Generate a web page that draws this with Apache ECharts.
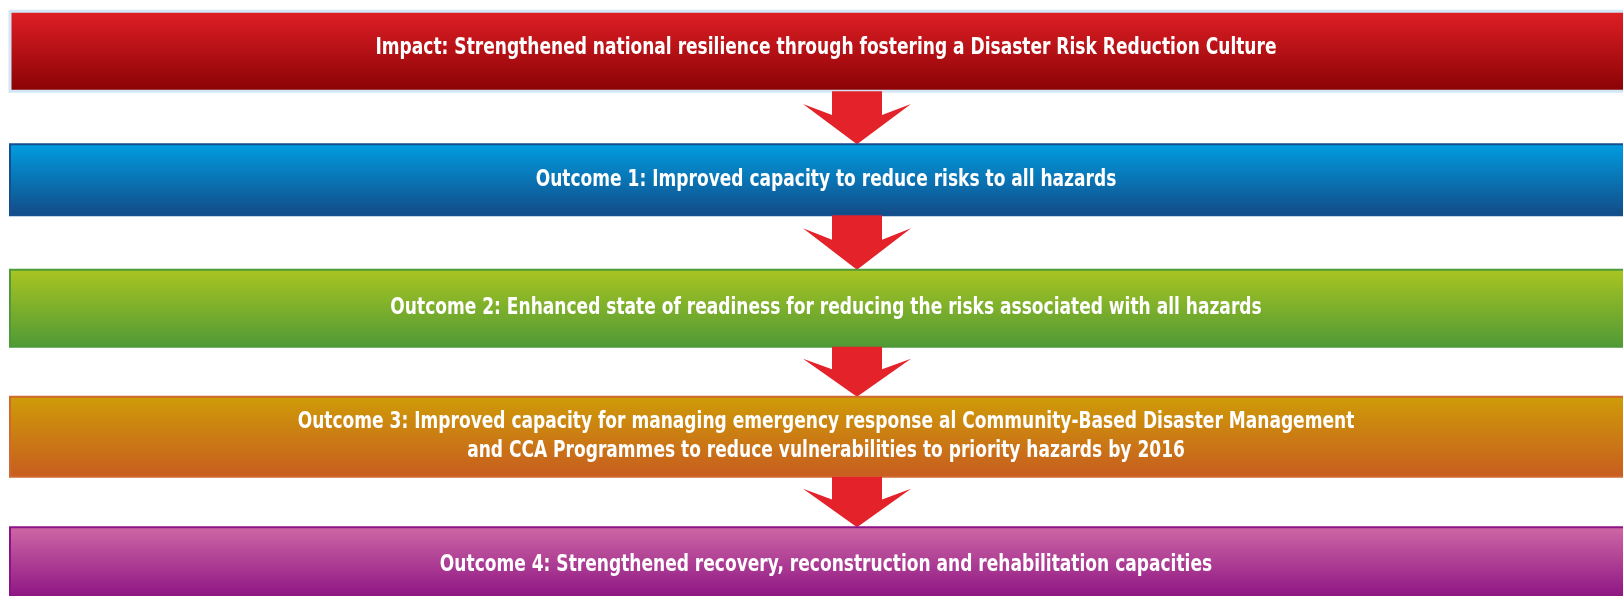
<!DOCTYPE html>
<html>
<head>
<meta charset="utf-8">
<script src="https://cdn.jsdelivr.net/npm/echarts@6/dist/echarts.min.js"></script>
<style>
  html, body { margin: 0; padding: 0; background: #ffffff; overflow: hidden; }
  #chart { width: 1623px; height: 596px; }
</style>
</head>
<body>
<div id="chart"></div>
<script>
// ---- Data: the levels of the results chain, top to bottom ----
var levels = [
  'Impact: Strengthened national resilience through fostering a Disaster Risk Reduction Culture',
  'Outcome 1: Improved capacity to reduce risks to all hazards',
  'Outcome 2: Enhanced state of readiness for reducing the risks associated with all hazards',
  'Outcome 3: Improved capacity for managing emergency response al Community-Based Disaster Management\nand CCA Programmes to reduce vulnerabilities to priority hazards by 2016',
  'Outcome 4: Strengthened recovery, reconstruction and rehabilitation capacities'
];

// ---- Styles (kept separate from the data) ----
var boxTop    = ['#e11f26', '#009ee2', '#aac521', '#cf9c07', '#cf68a5'];
var boxBottom = ['#880204', '#134a86', '#4f9936', '#c75c20', '#870d80'];
var boxBorder = ['#d3e6f6', '#154f8e', '#4e9a3a', '#d0692f', '#8a1487'];
var boxHeight = [80, 71, 77, 80, 76];
var textShift = [-3, 0, 0, 0, 0];
var arrowColor = '#e3222a';
var arrowCenterX = 51.9; // in x-axis units (0..100)
var font = "bold 23px 'Liberation Sans Narrow', 'DejaVu Sans Condensed', 'Liberation Sans', sans-serif";
var firstLabelWidth = 901; // target rendered width of the first label (px)

// horizontal compression so the text matches the condensed face of the reference
var measureCtx = document.createElement('canvas').getContext('2d');
measureCtx.font = font;
var textScale = firstLabelWidth / measureCtx.measureText(levels[0]).width;

var chart = echarts.init(document.getElementById('chart'), null, { renderer: 'canvas' });

function renderItem(params, api) {
  var i = params.dataIndex;
  var idx = api.value(1);
  var left = api.coord([0, idx]);
  var right = api.coord([100, idx]);
  var h = boxHeight[i];
  var top = left[1] - h / 2;
  var children = [];

  children.push({
    type: 'rect',
    shape: { x: left[0], y: top, width: right[0] - left[0], height: h },
    style: {
      fill: new echarts.graphic.LinearGradient(0, 0, 0, 1, [
        { offset: 0, color: boxTop[i] },
        { offset: 1, color: boxBottom[i] }
      ]),
      stroke: boxBorder[i],
      lineWidth: i === 0 ? 3 : 2
    }
  });

  children.push({
    type: 'text',
    x: (left[0] + right[0]) / 2,
    y: left[1] + textShift[i],
    scaleX: textScale,
    style: {
      text: api.value(2),
      x: 0,
      y: 0,
      align: 'center',
      verticalAlign: 'middle',
      fill: '#ffffff',
      font: font,
      lineHeight: 29
    }
  });

  if (i < levels.length - 1) {
    var next = api.coord([arrowCenterX, idx + 1]);
    var cx = next[0];
    var y0 = top + h;
    var y1 = next[1] - boxHeight[i + 1] / 2;
    var ah = y1 - y0;
    var sw = 25, ww = 54;
    var wingY = y0 + ah * 0.24;
    var notchY = y0 + ah * 0.45;
    children.push({
      type: 'polygon',
      shape: {
        points: [
          [cx - sw, y0], [cx + sw, y0], [cx + sw, notchY], [cx + ww, wingY],
          [cx, y1], [cx - ww, wingY], [cx - sw, notchY]
        ]
      },
      style: { fill: arrowColor }
    });
  }

  return { type: 'group', children: children };
}

chart.setOption({
  animation: false,
  grid: { left: 10, top: -13, width: 1632, height: 642.5, outerBoundsMode: 'none', containLabel: false },
  xAxis: { type: 'value', min: 0, max: 100, show: false },
  yAxis: {
    type: 'category',
    data: levels.map(function (_, i) { return 'L' + i; }),
    inverse: true,
    show: false
  },
  series: [{
    type: 'custom',
    renderItem: renderItem,
    clip: false,
    data: levels.map(function (t, i) { return [0, i, t]; }),
    encode: { x: 0, y: 1 }
  }]
});
</script>
</body>
</html>
